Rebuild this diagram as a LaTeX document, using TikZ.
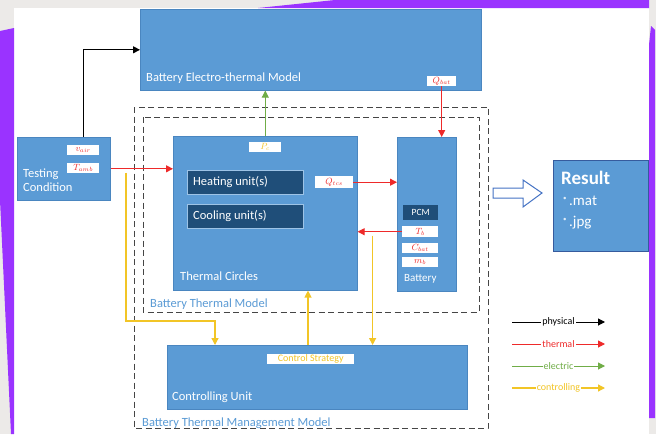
\documentclass[tikz,border=0pt]{standalone}
\usepackage{fontspec}
\setmainfont{Carlito}
\usetikzlibrary{arrows.meta,calc}
\definecolor{bgray}{HTML}{ECEAE8}
\definecolor{purp}{HTML}{9A33FF}
\definecolor{boxblue}{HTML}{5B9BD5}
\definecolor{boxedge}{HTML}{4A86C0}
\definecolor{darkunit}{HTML}{1F4E79}
\definecolor{thred}{HTML}{EE2A2A}
\definecolor{elgreen}{HTML}{70AD47}
\definecolor{ctyellow}{HTML}{F2C526}
\definecolor{dashgray}{HTML}{454545}
\definecolor{hollow}{HTML}{4472C4}
\tikzset{
  bluebox/.style={draw=boxedge, line width=0.6pt, fill=boxblue, inner sep=0pt, anchor=north west},
  unitbox/.style={draw=boxblue!60!white, line width=0.4pt, fill=darkunit, inner sep=0pt, anchor=north west},
  tagbox/.style={fill=white, inner sep=0pt, anchor=north west, font=\fontsize{9}{9}\selectfont},
  lbl/.style={anchor=west, text=white, inner sep=0pt, font=\fontsize{12.5}{14}\selectfont},
  framelbl/.style={anchor=west, text=boxblue, inner sep=0pt, font=\fontsize{12.5}{14}\selectfont},
  frameline/.style={draw=dashgray, dash pattern=on 6pt off 3.5pt, line width=0.8pt},
  tip/.style={-{Triangle[length=7pt,width=7pt]}},
  phys/.style={draw=black, line width=1pt, tip},
  therm/.style={draw=thred, line width=1pt, tip},
  elec/.style={draw=elgreen, line width=1pt, tip},
  ctrl/.style={draw=ctyellow, line width=1.3pt, tip},
  leg/.style={fill=white, inner sep=1pt, font=\fontsize{10}{10}\selectfont}
}
\begin{document}
\begin{tikzpicture}[x=1pt,y=-1pt]
\useasboundingbox (0,0) rectangle (656,434);
% slide background
\fill[bgray] (0,0) rectangle (656,434);
\fill[white] (14,8) rectangle (649,434);
\fill[purp] (0,31) -- (14,28) -- (14,434) -- (11,434) -- (0,200) -- cycle;
\fill[purp] (258,8) -- (335,0) -- (649,0) -- (649,8) -- cycle;
\fill[purp] (649,45) -- (651,26) -- (655,30) -- (655,418) -- (649,418) -- cycle;

% frames
\draw[frameline] (134,107) rectangle (488,428);
\draw[frameline] (143,117) rectangle (479,312);
\node[framelbl] (btmlbl) at (150,304) {Battery Thermal Model};
\node[framelbl] (btmmlbl) at (142,423) {Battery Thermal Management Model};

% boxes
\node[bluebox, minimum width=341pt, minimum height=81pt] (electro) at (140,9) {};
\node[lbl] (electrolbl) at (146,78) {Battery Electro-thermal Model};
\node[tagbox, minimum width=29pt, minimum height=10pt, text=thred] (qbat) at (427,76) {$Q_{bat}$};

\node[bluebox, minimum width=93pt, minimum height=63pt] (testing) at (17,137) {};
\node[lbl, align=left] (testinglbl) at (23,180) {Testing\\Condition};
\node[tagbox, minimum width=32pt, minimum height=10pt, text=thred] (vair) at (67,145) {$v_{air}$};
\node[tagbox, minimum width=32pt, minimum height=10pt, text=thred] (tamb) at (67,163) {$T_{amb}$};

\node[bluebox, minimum width=184pt, minimum height=154pt] (tc) at (173,136) {};
\node[lbl] (tclbl) at (180,276) {Thermal Circles};
\node[tagbox, minimum width=32pt, minimum height=10pt, text=ctyellow] (pc) at (249,142) {$P_{c}$};
\node[unitbox, minimum width=116pt, minimum height=24pt] (heat) at (187,170) {};
\node[lbl] (heatlbl) at (193,182) {Heating unit(s)};
\node[unitbox, minimum width=116pt, minimum height=24pt] (cool) at (187,204) {};
\node[lbl] (coollbl) at (193,216) {Cooling unit(s)};
\node[tagbox, minimum width=38pt, minimum height=12pt, text=thred] (qtcs) at (315,176) {$Q_{tcs}$};

\node[bluebox, minimum width=59pt, minimum height=154pt] (bat) at (397,137) {};
\node[fill=darkunit, inner sep=0pt, anchor=north west, minimum width=35pt, minimum height=15pt, text=white, font=\fontsize{9.5}{10}\selectfont] (pcm) at (403,205) {PCM};
\node[tagbox, minimum width=36pt, minimum height=11pt, text=thred] (tb) at (402,226) {$T_{b}$};
\node[tagbox, minimum width=36pt, minimum height=10pt, text=thred] (cb) at (402,243) {$C_{bat}$};
\node[tagbox, minimum width=36pt, minimum height=10pt, text=thred] (mb) at (402,257) {$m_{b}$};
\node[lbl, font=\fontsize{11}{12}\selectfont] (batlbl) at (404,279) {Battery};

\node[bluebox, minimum width=300pt, minimum height=64pt] (control) at (167,345) {};
\node[lbl] (controllbl) at (172,397) {Controlling Unit};
\node[tagbox, minimum width=87pt, minimum height=10pt, text=ctyellow, font=\fontsize{10}{10}\selectfont] (cs) at (267,354) {Control Strategy};

\node[bluebox, draw=hollow!80!black, line width=0.8pt, minimum width=95pt, minimum height=91pt] (result) at (553,160) {};
\node[lbl, font=\fontsize{19}{20}\bfseries\selectfont] (reslbl) at (561,178) {Result};
\node[lbl, font=\fontsize{15}{16}\selectfont] (mat) at (563,201) {{\fontsize{7}{7}\selectfont\raisebox{5pt}{\textcolor{white!80!boxblue}{\textbullet}}}\,.mat};
\node[lbl, font=\fontsize{15}{16}\selectfont] (jpg) at (563,223) {{\fontsize{7}{7}\selectfont\raisebox{5pt}{\textcolor{white!80!boxblue}{\textbullet}}}\,.jpg};

% hollow arrow
\draw[draw=hollow, line width=1pt, fill=white] (493,188) -- (523,188) -- (523,180) -- (542,193) -- (523,207) -- (523,198) -- (493,198) -- cycle;

% connectors
\draw[phys] ($(testing.north west)+(66,0)$) |- (electro.west);
\draw[therm] (testing.east) -- (testing.east -| tc.west);
\coordinate (ytap1) at ($(testing.east)+(15.5,4)$);
\coordinate (ydrop1) at ($(control.north west)+(48,0)$);
\draw[ctrl] (ytap1) |- ($(ydrop1)+(0,-24)$) -- (ydrop1);
\draw[elec] (tc.north) -- (tc.north |- electro.south);
\draw[therm] (qtcs.east) -- (qtcs.east -| bat.west);
\draw[therm] (qbat.south) -- (qbat.south |- bat.north);
\draw[therm] (tb.west) -- (tb.west -| tc.east);
\coordinate (ytap2) at ($(tb.west -| tc.east)+(15,4)$);
\draw[ctrl] (ytap2) -- (ytap2 |- control.north);
\draw[ctrl] ($(control.north west)+(141,0)$) -- ($(tc.south west)+(135,0)$);

% legend
\coordinate (l1a) at (512,322); \coordinate (l1b) at (605,322);
\coordinate (l2a) at (512,344); \coordinate (l2b) at (605,344);
\coordinate (l3a) at (512,366); \coordinate (l3b) at (605,366);
\coordinate (l4a) at (512,388); \coordinate (l4b) at (605,388);
\draw[phys] (l1a) -- node[leg, text=black] {physical} (l1b);
\draw[therm] (l2a) -- node[leg, text=thred] {thermal} (l2b);
\draw[elec] (l3a) -- node[leg, text=elgreen] {electric} (l3b);
\draw[ctrl] (l4a) -- node[leg, text=ctyellow] {controlling} (l4b);
\end{tikzpicture}
\end{document}
